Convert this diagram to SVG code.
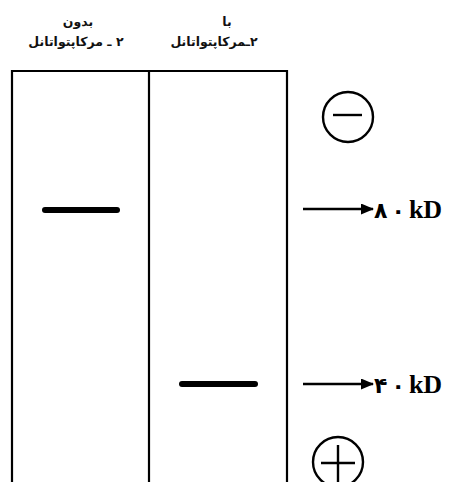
<svg xmlns="http://www.w3.org/2000/svg" width="452" height="482" viewBox="0 0 452 482">
<style>
.box{fill:none;stroke:#000;stroke-width:2.2}
.band{stroke:#000;stroke-width:6;stroke-linecap:round}
.arrow{stroke:#000;stroke-width:2.6;fill:none}
.hdr{font-family:"DejaVu Sans","Noto Sans",sans-serif;font-size:12.5px;font-weight:bold;fill:#111;text-anchor:middle}
.lbl{font-family:"Liberation Serif","DejaVu Serif",serif;font-size:26px;font-weight:bold;fill:#000}
.dig{font-family:"DejaVu Sans",sans-serif;font-size:22px;font-weight:bold}
.sign{fill:none;stroke:#000;stroke-width:2.4}
</style>
<defs>
<marker id="ah" markerWidth="13" markerHeight="11" refX="12" refY="5.5" orient="auto" markerUnits="userSpaceOnUse">
<path d="M0,0 L13,5.5 L0,11 z" fill="#000"/>
</marker>
</defs>
<rect width="452" height="482" fill="#fff"/>
<g id="header-left">
<text class="hdr" x="78" y="26" direction="rtl">بدون</text>
<text class="hdr" x="76" y="46" direction="rtl">۲ ـ مرکاپتواتانل</text>
</g>
<g id="header-right">
<text class="hdr" x="227" y="26" direction="rtl">با</text>
<text class="hdr" x="214" y="46" direction="rtl">۲ـمرکاپتواتانل</text>
</g>
<g id="gel">
<path class="box" d="M12,490 V71 H287 V490"/>
<line class="box" x1="149" y1="71" x2="149" y2="490"/>
</g>
<g id="band-80">
<line class="band" x1="45" y1="210" x2="117" y2="210"/>
</g>
<g id="band-40">
<line class="band" x1="182" y1="384" x2="255" y2="384"/>
</g>
<g id="cathode">
<circle class="sign" cx="348" cy="117" r="25"/>
<line class="sign" x1="333" y1="115" x2="362" y2="115"/>
</g>
<g id="anode">
<circle class="sign" cx="338" cy="462" r="25"/>
<line class="sign" x1="321" y1="463" x2="355" y2="463"/>
<line class="sign" x1="338" y1="445" x2="338" y2="482"/>
</g>
<g id="connectors">
<line class="arrow" x1="303" y1="209" x2="373" y2="209" marker-end="url(#ah)"/>
<line class="arrow" x1="303" y1="384" x2="373" y2="384" marker-end="url(#ah)"/>
</g>
<g id="label-80">
<text class="lbl" x="374" y="218"><tspan class="dig">۸</tspan><tspan class="dig" dx="4">۰</tspan><tspan dx="4">kD</tspan></text>
</g>
<g id="label-40">
<text class="lbl" x="374" y="393"><tspan class="dig">۴</tspan><tspan class="dig" dx="4">۰</tspan><tspan dx="4">kD</tspan></text>
</g>
</svg>
